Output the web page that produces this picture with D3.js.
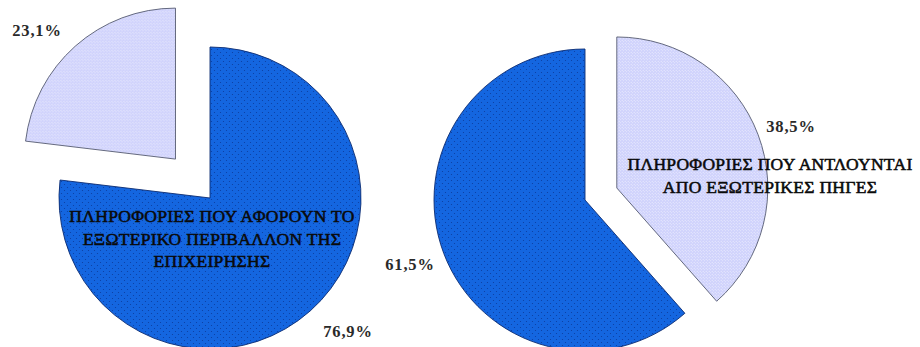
<!DOCTYPE html>
<html>
<head>
<meta charset="utf-8">
<script src="https://cdn.jsdelivr.net/npm/d3@7"></script>
<style>
  html, body { margin: 0; padding: 0; background: #fff; }
  svg { display: block; }
</style>
</head>
<body>
<svg id="chart" width="920" height="347"></svg>
<script>
// Slice shares (%) for each pie, drawn clockwise from 12 o'clock
const leftKeys = ["internal", "other"];
const leftValues = [76.9, 23.1];
const leftPctLabels = ["76,9%", "23,1%"];
const leftTitle = ["ΠΛΗΡΟΦΟΡΙΕΣ ΠΟΥ ΑΦΟΡΟΥΝ ΤΟ", "ΕΞΩΤΕΡΙΚΟ ΠΕΡΙΒΑΛΛΟΝ ΤΗΣ", "ΕΠΙΧΕΙΡΗΣΗΣ"];

const rightKeys = ["external", "other"];
const rightValues = [38.5, 61.5];
const rightPctLabels = ["38,5%", "61,5%"];
const rightTitle = ["ΠΛΗΡΟΦΟΡΙΕΣ ΠΟΥ ΑΝΤΛΟΥΝΤΑΙ", "ΑΠΟ ΕΞΩΤΕΡΙΚΕΣ ΠΗΓΕΣ"];

const svg = d3.select("#chart");
const defs = svg.append("defs");

// Dotted fills
function dotPattern(id, base, dot, size, r, pts) {
  const p = defs.append("pattern").attr("id", id)
    .attr("patternUnits", "userSpaceOnUse").attr("width", size).attr("height", size);
  p.append("rect").attr("width", size).attr("height", size).attr("fill", base);
  pts.forEach(([x, y]) => p.append("circle").attr("cx", x).attr("cy", y).attr("r", r).attr("fill", dot));
}
dotPattern("blueDots", "#1466e0", "#0b3d9e", 6, 0.6, [[1.5, 1.5], [4.5, 4.5]]);
dotPattern("lightDots", "#cdd0fc", "#ffffff", 3, 0.5, [[0.75, 0.75], [2.25, 2.25]]);

const fills = { blue: "url(#blueDots)", light: "url(#lightDots)" };

const R = 151;
const arc = d3.arc().innerRadius(0).outerRadius(R);
const pie = d3.pie().sort(null).value(d => d.v).startAngle(0).endAngle(2 * Math.PI);

function drawPie(cx, cy, keys, values, colors, explode, pctLabels, pctPos, title, titlePos) {
  const data = keys.map((k, i) => ({ k, v: values[i], c: colors[i], e: explode[i] }));
  const g = svg.append("g").attr("transform", `translate(${cx},${cy})`);
  const arcs = pie(data);
  g.selectAll("path").data(arcs).join("path")
    .attr("transform", d => {
      const a = (d.startAngle + d.endAngle) / 2;
      return `translate(${Math.sin(a) * d.data.e},${-Math.cos(a) * d.data.e})`;
    })
    .attr("d", arc)
    .attr("fill", d => fills[d.data.c])
    .attr("stroke", d => d.data.c === "blue" ? "#0a2a70" : "#555a70")
    .attr("stroke-width", 0.9)
    .attr("stroke-linejoin", "miter");

  pctLabels.forEach((t, i) => {
    g.append("text").attr("x", pctPos[i][0]).attr("y", pctPos[i][1])
      .attr("font-family", "'Liberation Serif', 'Times New Roman', serif")
      .attr("font-weight", "bold").attr("font-size", 16.5)
      .attr("letter-spacing", 0.8)
      .attr("fill", "#2a2a2a").attr("text-anchor", "middle")
      .text(t);
  });

  const tt = g.append("text")
    .attr("font-family", "'Liberation Serif', 'Times New Roman', serif")
    .attr("font-size", 17.5).attr("fill", "#0a0a0a")
    .attr("stroke", "#0a0a0a").attr("stroke-width", 0.55)
    .attr("letter-spacing", 0.3)
    .attr("text-anchor", "middle");
  title.forEach((line, i) => {
    tt.append("tspan").attr("x", titlePos[0]).attr("y", titlePos[1] + i * 22.5).text(line);
  });
}

drawPie(210, 198, leftKeys, leftValues, ["blue", "light"], [0, 52],
  leftPctLabels, [[138, 139], [-173, -162]],
  leftTitle, [2, 24]);

drawPie(585, 200, rightKeys, rightValues, ["light", "blue"], [34, 0],
  rightPctLabels, [[206, -68], [-175, 70]],
  rightTitle, [185, -30]);
</script>
</body>
</html>
